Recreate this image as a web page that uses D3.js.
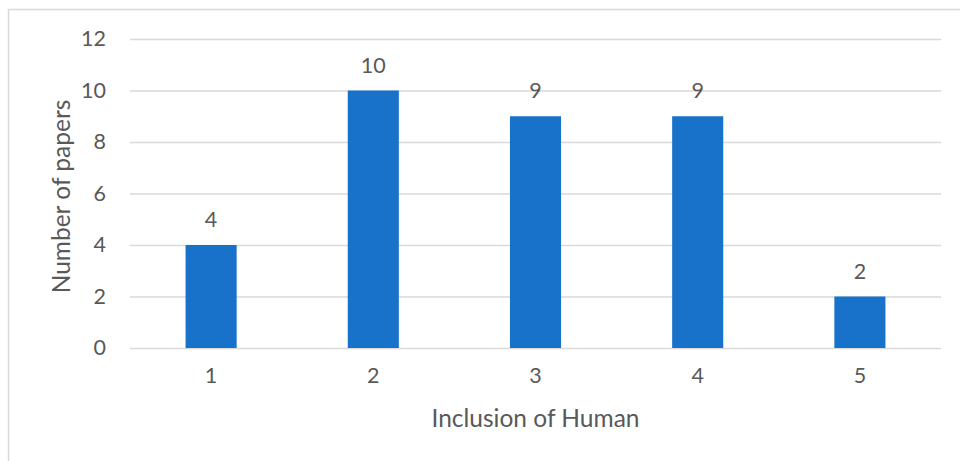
<!DOCTYPE html>
<html>
<head>
<meta charset="utf-8">
<script src="https://cdn.jsdelivr.net/npm/d3@7"></script>
<style>
  html, body { margin: 0; padding: 0; background: #fff; }
  svg { display: block; }
  text { font-family: Lato, "Open Sans", sans-serif; }
</style>
</head>
<body>
<script>
// Papers grouped by level of human inclusion
const categories = ["1", "2", "3", "4", "5"];
const paperCounts = [4, 10, 9, 9, 2];
const yTickValues = [0, 2, 4, 6, 8, 10, 12];
const xTitle = "Inclusion of Human";
const yTitle = "Number of papers";

const W = 960, H = 461;
const plot = { left: 130, right: 941, top: 39, bottom: 348 };

const svg = d3.select("body").append("svg")
  .attr("width", W).attr("height", H);

// chart frame (continues past the right and bottom edges)
svg.append("rect")
  .attr("x", 8.5).attr("y", 9.5)
  .attr("width", 1100).attr("height", 600)
  .attr("fill", "#fff")
  .attr("stroke", "#d9d9d9").attr("stroke-width", 1.5);

const x = d3.scaleBand()
  .domain(categories)
  .range([plot.left, plot.right])
  .paddingInner(0.685)
  .paddingOuter(0.685 / 2);

const y = d3.scaleLinear()
  .domain([0, 12])
  .range([plot.bottom, plot.top]);

// horizontal gridlines + y tick labels
const yAxis = d3.axisLeft(y)
  .tickValues(yTickValues)
  .tickSize(-(plot.right - plot.left))
  .tickPadding(24);

const gy = svg.append("g")
  .attr("transform", `translate(${plot.left},0)`)
  .call(yAxis);
gy.select(".domain").remove();
gy.selectAll(".tick line")
  .attr("stroke", "#d9d9d9").attr("stroke-width", 1.3);
gy.selectAll(".tick text")
  .attr("fill", "#595959")
  .style("font-size", "21.5px");

// category labels
const xAxis = d3.axisBottom(x).tickSize(0).tickPadding(20);
const gx = svg.append("g")
  .attr("transform", `translate(0,${plot.bottom})`)
  .call(xAxis);
gx.select(".domain").remove();
gx.selectAll(".tick text")
  .attr("fill", "#595959")
  .style("font-size", "21.5px");

// bars
svg.append("g").selectAll("rect")
  .data(paperCounts)
  .join("rect")
  .attr("x", (d, i) => x(categories[i]))
  .attr("y", d => y(d))
  .attr("width", x.bandwidth())
  .attr("height", d => y(0) - y(d))
  .attr("fill", "#1872c9");

// value labels
svg.append("g").selectAll("text")
  .data(paperCounts)
  .join("text")
  .attr("x", (d, i) => x(categories[i]) + x.bandwidth() / 2)
  .attr("y", d => y(d) - 18)
  .attr("text-anchor", "middle")
  .attr("fill", "#595959")
  .style("font-size", "21.5px")
  .text(d => d);

// axis titles
svg.append("text")
  .attr("x", (plot.left + plot.right) / 2)
  .attr("y", 427)
  .attr("text-anchor", "middle")
  .attr("fill", "#595959")
  .style("font-size", "24.5px")
  .text(xTitle);

svg.append("text")
  .attr("transform", `translate(70,196.5) rotate(-90)`)
  .attr("text-anchor", "middle")
  .attr("fill", "#595959")
  .style("font-size", "24.5px")
  .text(yTitle);
</script>
</body>
</html>
